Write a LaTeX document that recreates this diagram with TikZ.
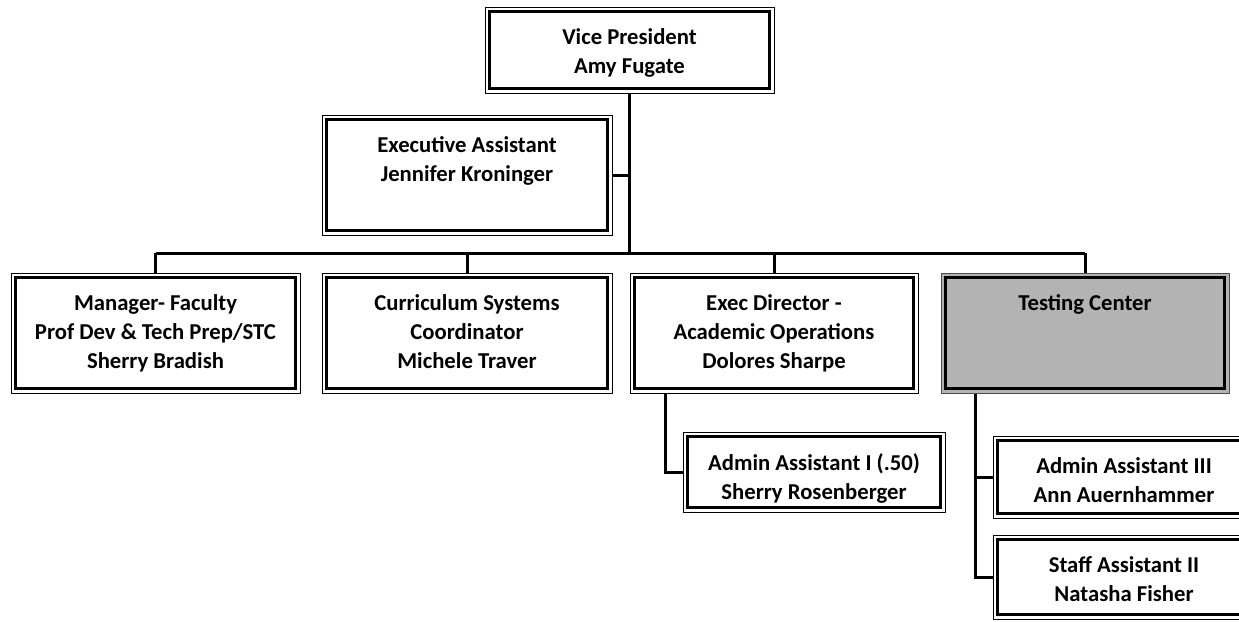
\documentclass[tikz,border=0pt]{standalone}
\usepackage{fontspec}
\setmainfont{Carlito}
\pgfdeclarelayer{bg}
\pgfdeclarelayer{mid}
\pgfsetlayers{bg,mid,main}
\tikzset{
  orgbox/.style={draw, line width=3.2pt, inner sep=0pt, outer sep=0pt, fill=white,
    font=\fontsize{22.7}{29}\selectfont\bfseries},
  graybox/.style={orgbox, fill=tcgray},
  link/.style={line width=3pt},
  frame/.style={draw=black, line width=0.9pt, fill=white},
  grayframe/.style={draw=black!70, line width=0.9pt, fill=tcgray},
}
\definecolor{tcgray}{RGB}{179,179,179}
\newcommand{\bxt}[3]{\parbox[c][#2pt][t]{#1pt}{\centering\vspace*{17.5pt}#3\par}}
\begin{document}
\begin{tikzpicture}[x=1pt,y=-1pt]
\useasboundingbox (0,0) rectangle (1239,621);
\clip (0,0) rectangle (1239,621);
\node[orgbox] (vp)  at (629.5,50) {\bxt{280}{77}{Vice President\\Amy Fugate}};
\node[orgbox] (ea)  at (467,175)  {\bxt{281}{111}{Executive Assistant\\Jennifer Kroninger}};
\node[orgbox] (mgr) at (155.5,333) {\bxt{280}{111}{Manager- Faculty\\Prof Dev \& Tech Prep/STC\\Sherry Bradish}};
\node[orgbox] (cur) at (467,333) {\bxt{281}{111}{Curriculum Systems\\Coordinator\\Michele Traver}};
\node[orgbox] (exd) at (774,333) {\bxt{279}{111}{Exec Director -\\Academic Operations\\Dolores Sharpe}};
\node[graybox] (tc) at (1085,333) {\bxt{279}{111}{Testing Center}};
\node[orgbox] (aa1) at (814,472) {\bxt{253}{71}{Admin Assistant I (.50)\\Sherry Rosenberger}};
\node[orgbox] (aa3) at (1124,477) {\bxt{253}{73}{Admin Assistant III\\Ann Auernhammer}};
\node[orgbox] (sa2) at (1124,577) {\bxt{253}{75}{Staff Assistant II\\Natasha Fisher}};
\begin{pgfonlayer}{mid}
\foreach \n in {vp,ea,mgr,cur,exd,aa1,aa3,sa2}
  \path[frame] ([xshift=-4.5pt,yshift=4.5pt]\n.north west) rectangle ([xshift=4.5pt,yshift=-4.5pt]\n.south east);
\path[grayframe] ([xshift=-4.5pt,yshift=4.5pt]tc.north west) rectangle ([xshift=4.5pt,yshift=-4.5pt]tc.south east);
\end{pgfonlayer}
\begin{pgfonlayer}{bg}
\coordinate (bus) at (630,253);
\draw[link] (vp.south) -- (vp.south |- bus);
\draw[link] (ea.east) -- (ea.east -| vp.south);
\draw[link] (mgr.north |- bus) -- (tc.north |- bus);
\foreach \n in {mgr,cur,exd,tc}
  \draw[link] (\n.north |- bus) -- (\n.north);
\draw[link] ([xshift=30.5pt]exd.south west) |- (aa1.west);
\draw[link] ([xshift=29.5pt]tc.south west) |- (aa3.west);
\draw[link] ([xshift=29.5pt]tc.south west) |- (sa2.west);
\end{pgfonlayer}
\end{tikzpicture}
\end{document}
